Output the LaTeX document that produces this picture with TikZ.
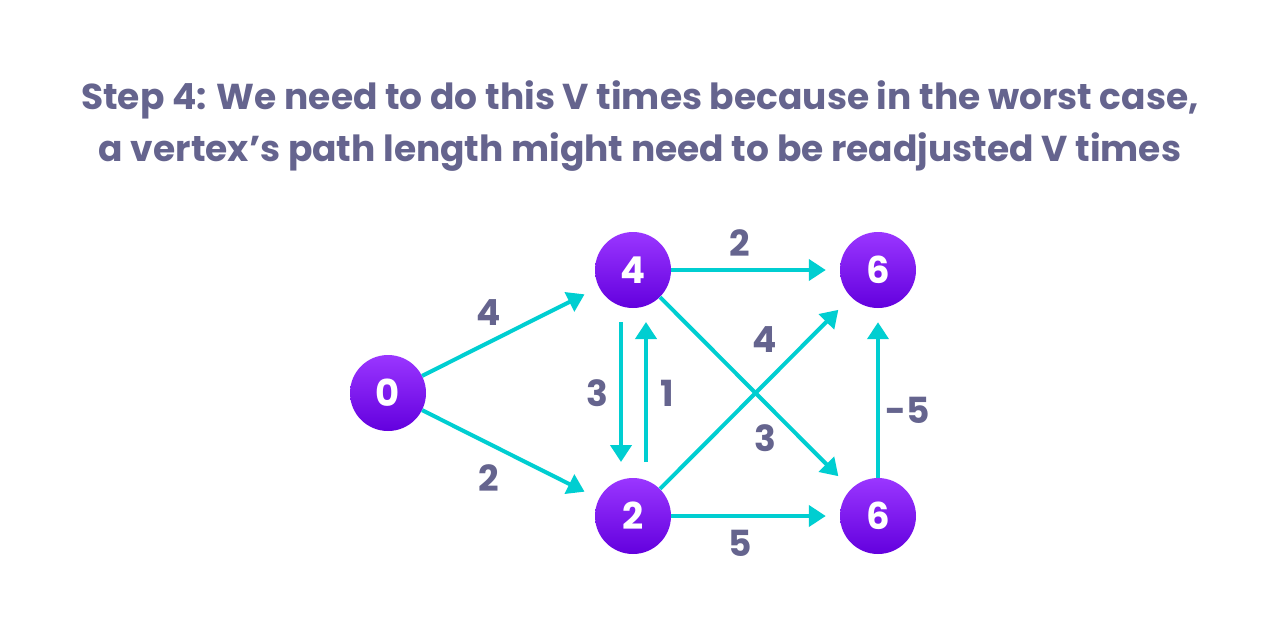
\documentclass[tikz,border=0pt]{standalone}
\usepackage{fontspec}
\setmainfont{Poppins}
\usetikzlibrary{arrows.meta,positioning}

\definecolor{ink}{HTML}{65648E}
\definecolor{edgecol}{HTML}{00CED1}
\definecolor{vtop}{HTML}{9A36FF}
\definecolor{vbot}{HTML}{6300DE}

\tikzset{
  vertex/.style={circle, minimum size=76pt, inner sep=0pt, top color=vtop, bottom color=vbot,
    text=white, font=\fontsize{37}{37}\selectfont\bfseries},
  edge/.style={draw=edgecol, line width=4pt, -{Triangle[length=17pt,width=21pt]}, shorten >=14pt},
  weight/.style={text=ink, font=\fontsize{36}{36}\selectfont\bfseries},
  heading/.style={text=ink, anchor=base, inner sep=0pt, font=\fontsize{36}{36}\selectfont\bfseries}
}

\begin{document}
\begin{tikzpicture}[x=1pt, y=-1pt]
   \useasboundingbox (0,0) rectangle (1280,638);

   \node[heading] (line1) at (640,109) {Step 4: We need to do this V times because in the worst case,};
   \node[heading] (line2) at (640,161) {a vertex’s path length might need to be readjusted V times};

   % vertices
   \node[vertex] (s)  at (388,393) {0};
   \node[vertex] (a)  at (633,270) {4};
   \node[vertex] (b)  at (633,516) {2};
   \node[vertex] (c)  at (878,270) {6};
   \node[vertex] (d)  at (878,516) {6};

   % edges
   \draw[edge, shorten >=16pt] (s) -- (a);
   \draw[edge, shorten >=16pt] (s) -- (b);
   \draw[edge] (a) -- (c);
   \draw[edge] (b) -- (d);
   \draw[edge, shorten >=18pt] (b) -- (c);
   \draw[edge, shorten >=18pt] (a) -- (d);
   \draw[edge] (d) -- (c);
   \draw[edge, shorten <=52pt, shorten >=54pt] ([xshift=-12pt]a.center) -- ([xshift=-12pt]b.center);
   \draw[edge, shorten <=54pt, shorten >=52pt] ([xshift=13pt]b.center) -- ([xshift=13pt]a.center);

   % weights
   \node[weight] (wsa) at (489,313) {4};
   \node[weight] (wsb) at (489,478) {2};
   \node[weight] (wac) at (740,243) {2};
   \node[weight] (wbd) at (740,543) {5};
   \node[weight] (wbc) at (765,340) {4};
   \node[weight] (wad) at (765,438) {3};
   \node[weight] (wab) at (597,393) {3};
   \node[weight] (wba) at (667,393) {1};
   \node[weight] (wdc) at (908,410) {-5};
\end{tikzpicture}
\end{document}
